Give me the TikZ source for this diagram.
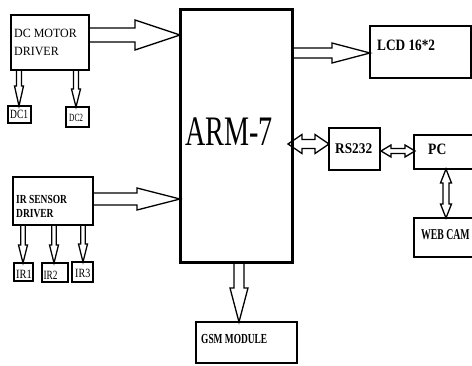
\documentclass[tikz,border=0pt]{standalone}
\usepackage{fontspec}
\setmainfont{Liberation Serif}
\usetikzlibrary{calc,backgrounds}
\tikzset{
  box/.style={draw, line width=2pt, inner sep=0pt, outer sep=0pt, anchor=north west, minimum width=#1},
  lbl/.style={inner sep=0pt, anchor=base west},
  arr/.style={draw, fill=white, line width=1.3pt, line join=miter},
  blk/.style n args={3}{to path={
    let \p1=(\tikztostart), \p2=(\tikztotarget),
        \n1={veclen(\x2-\x1,\y2-\y1)},
        \n2={(\x2-\x1)/\n1}, \n3={(\y2-\y1)/\n1}
    in ({\x1-\n3*#1},{\y1+\n2*#1})
    -- ({\x2-\n2*#3-\n3*#1},{\y2-\n3*#3+\n2*#1})
    -- ({\x2-\n2*#3-\n3*#2},{\y2-\n3*#3+\n2*#2})
    -- (\x2,\y2)
    -- ({\x2-\n2*#3+\n3*#2},{\y2-\n3*#3-\n2*#2})
    -- ({\x2-\n2*#3+\n3*#1},{\y2-\n3*#3-\n2*#1})
    -- ({\x1+\n3*#1},{\y1-\n2*#1}) -- cycle}},
  dbl/.style n args={3}{to path={
    let \p1=(\tikztostart), \p2=(\tikztotarget),
        \n1={veclen(\x2-\x1,\y2-\y1)},
        \n2={(\x2-\x1)/\n1}, \n3={(\y2-\y1)/\n1}
    in (\x1,\y1)
    -- ({\x1+\n2*#3-\n3*#2},{\y1+\n3*#3+\n2*#2})
    -- ({\x1+\n2*#3-\n3*#1},{\y1+\n3*#3+\n2*#1})
    -- ({\x2-\n2*#3-\n3*#1},{\y2-\n3*#3+\n2*#1})
    -- ({\x2-\n2*#3-\n3*#2},{\y2-\n3*#3+\n2*#2})
    -- (\x2,\y2)
    -- ({\x2-\n2*#3+\n3*#2},{\y2-\n3*#3-\n2*#2})
    -- ({\x2-\n2*#3+\n3*#1},{\y2-\n3*#3-\n2*#1})
    -- ({\x1+\n2*#3+\n3*#1},{\y1+\n3*#3-\n2*#1})
    -- ({\x1+\n2*#3+\n3*#2},{\y1+\n3*#3-\n2*#2})
    -- cycle}}
}
\begin{document}
\begin{tikzpicture}[x=1pt,y=1pt]
\useasboundingbox (0,0) rectangle (472,-365);
% boxes
\node[box=78pt, minimum height=55pt, line width=2.5pt] (dcm) at (11,-15) {};
\node[box=23pt, minimum height=17pt, line width=1.5pt] (dc1) at (8,-106) {};
\node[box=23pt, minimum height=20pt, line width=1.5pt] (dc2) at (66,-107) {};
\node[box=112pt, minimum height=253pt, line width=3pt] (arm) at (180,-9) {};
\node[box=101pt, minimum height=52pt] (lcd) at (370,-26) {};
\node[box=80pt, minimum height=48pt] (ir) at (13,-177) {};
\node[box=19pt, minimum height=18pt, line width=1.5pt] (ir1) at (14,-263) {};
\node[box=26pt, minimum height=19pt, line width=1.5pt] (ir2) at (42,-263) {};
\node[box=21pt, minimum height=20pt, line width=1.5pt] (ir3) at (72,-262) {};
\node[box=51pt, minimum height=42pt] (rs) at (329,-128) {};
\node[box=70pt, minimum height=34pt] (pc) at (414,-135) {};
\node[box=70pt, minimum height=39pt] (cam) at (414,-218) {};
\node[box=101pt, minimum height=41pt] (gsm) at (196,-322) {};
% texts
\node[inner sep=0pt, anchor=base] (armt) at (229,-145) {\scalebox{0.67}[1]{\fontsize{42}{42}\selectfont ARM-7}};
\node[lbl] (dcmt1) at (14,-37.7) {\scalebox{0.95}[1]{\fontsize{12.6}{14}\selectfont DC MOTOR}};
\node[lbl] (dcmt2) at (14,-55) {\scalebox{0.95}[1]{\fontsize{12.6}{14}\selectfont DRIVER}};
\node[lbl] (dc1t) at (10,-118) {\scalebox{0.75}[1]{\fontsize{12.6}{14}\selectfont DC1}};
\node[lbl] (dc2t) at (69,-121) {\scalebox{0.67}[1]{\fontsize{11}{13}\selectfont DC2}};
\node[lbl] (lcdt) at (377,-50) {\scalebox{0.84}[1]{\fontsize{15.8}{18}\selectfont\bfseries LCD 16*2}};
\node[lbl] (rst) at (335,-153) {\scalebox{0.9}[1]{\fontsize{14.8}{17}\selectfont\bfseries RS232}};
\node[lbl] (pct) at (428,-154) {\scalebox{0.86}[1]{\fontsize{15.8}{18}\selectfont\bfseries PC}};
\node[lbl] (camt) at (421,-239) {\scalebox{0.65}[1]{\fontsize{15}{17}\selectfont\bfseries WEB CAM}};
\node[lbl] (gsmt) at (201,-343) {\scalebox{0.68}[1]{\fontsize{13.8}{16}\selectfont\bfseries GSM MODULE}};
\node[lbl] (irt1) at (16,-203) {\scalebox{0.77}[1]{\fontsize{12.3}{14}\selectfont\bfseries IR SENSOR}};
\node[lbl] (irt2) at (16,-217.3) {\scalebox{0.77}[1]{\fontsize{12.3}{14}\selectfont\bfseries DRIVER}};
\node[lbl] (ir1t) at (16,-278) {\scalebox{0.83}[1]{\fontsize{12.6}{14}\selectfont IR1}};
\node[lbl] (ir2t) at (43.3,-279) {\scalebox{0.74}[1]{\fontsize{12.6}{14}\selectfont IR2}};
\node[lbl] (ir3t) at (75,-277) {\scalebox{0.8}[1]{\fontsize{12.6}{14}\selectfont IR3}};
% arrows
\begin{scope}[on background layer]
\path[arr] ($(dcm.north east)+(0,-20)$) to[blk={7pt}{15pt}{45pt}] ($(arm.north west)+(0,-26)$);
\path[arr] ($(arm.north east)+(0,-44)$) to[blk={5pt}{10pt}{38pt}] ($(lcd.north west)+(0,-27)$);
\path[arr] ($(ir.north east)+(0,-22)$) to[blk={6pt}{11pt}{43pt}] ($(arm.north west)+(0,-190)$);
\path[arr] ($(arm.north east)+(-4,-135)$) to[dbl={4.5pt}{9.5pt}{14pt}] ($(rs.north west)+(0,-16)$);
\path[arr] ($(rs.north east)+(1,-23)$) to[dbl={2.5pt}{6pt}{10pt}] ($(pc.north west)+(1,-16)$);
\path[arr] ($(pc.south west)+(32,0)$) to[dbl={3pt}{5.5pt}{14pt}] ($(cam.north west)+(32,0)$);
\path[arr] ($(arm.south west)+(59,0)$) to[blk={5pt}{9pt}{34pt}] ($(gsm.north west)+(43,0)$);
\path[arr] ($(dcm.south west)+(8,0)$) to[blk={2.5pt}{4.5pt}{20pt}] ($(dc1.north west)+(11,0)$);
\path[arr] ($(dcm.south west)+(65,0)$) to[blk={2.5pt}{4.5pt}{18pt}] ($(dc2.north west)+(10,0)$);
\path[arr] ($(ir.south west)+(10,0)$) to[blk={2.2pt}{4.5pt}{18pt}] ($(ir1.north west)+(9,0)$);
\path[arr] ($(ir.south west)+(41,0)$) to[blk={2.2pt}{4.5pt}{18pt}] ($(ir2.north west)+(12,0)$);
\path[arr] ($(ir.south west)+(70,0)$) to[blk={2.2pt}{4.5pt}{18pt}] ($(ir3.north west)+(11,0)$);
\end{scope}
\end{tikzpicture}
\end{document}
